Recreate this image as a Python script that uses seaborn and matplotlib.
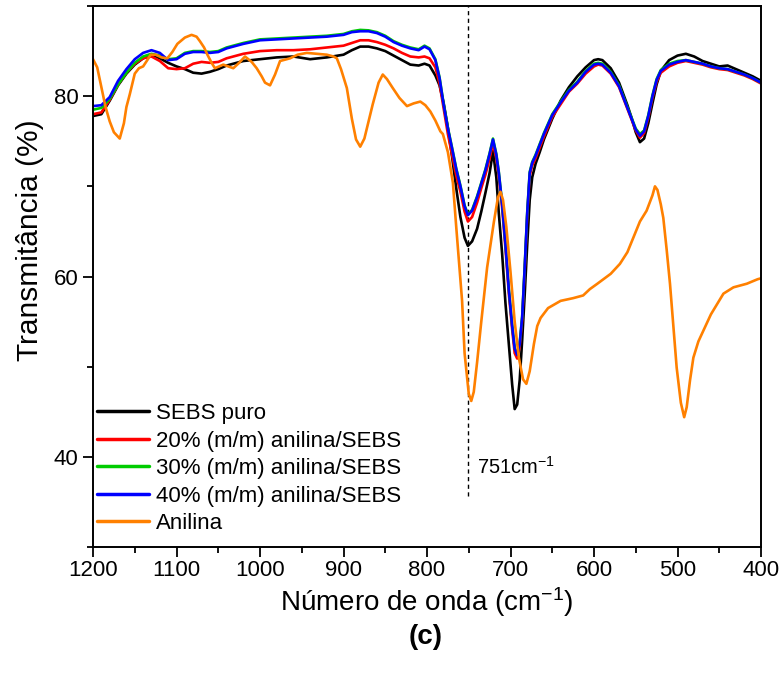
import matplotlib
matplotlib.use("Agg")
import matplotlib.pyplot as plt
from matplotlib.ticker import MultipleLocator, AutoMinorLocator
import numpy as np
import pandas as pd
import seaborn as sns

# FTIR spectra of SEBS films (wavenumber in cm-1, transmittance in %)
wn_sebs = [1200, 1190, 1180, 1170, 1160, 1150, 1140, 1130, 1120, 1110,
           1100, 1090, 1080, 1070, 1060, 1050, 1040, 1020, 1000, 980,
           960, 940, 920, 900, 890, 880, 870, 860, 850, 840,
           830, 820, 810, 803, 797, 790, 785, 780, 775, 770,
           765, 760, 755, 751, 746, 740, 735, 730, 725, 721,
           717, 714, 710, 706, 702, 698, 695, 692, 689, 686,
           683, 680, 677, 674, 670, 665, 660, 650, 640, 630,
           620, 610, 600, 595, 590, 580, 570, 560, 555, 550,
           545, 540, 535, 530, 525, 520, 510, 500, 490, 480,
           470, 460, 450, 440, 430, 420, 410, 400]

sebs_puro = [77.8, 78.0, 79.5, 81.2, 82.5, 83.5, 84.2, 84.6, 84.2, 83.7,
             83.3, 83.0, 82.6, 82.5, 82.7, 83.0, 83.4, 83.9, 84.1, 84.3,
             84.4, 84.1, 84.3, 84.6, 85.1, 85.5, 85.5, 85.3, 85.0, 84.5,
             84.0, 83.5, 83.4, 83.6, 83.4, 82.3, 81.2, 79.2, 76.5, 73.3,
             69.8, 66.6, 64.3, 63.4, 63.9, 65.3, 67.2, 69.3, 71.5, 73.9,
             71.0, 67.0, 62.5, 57.0, 52.5, 48.0, 45.3, 45.8, 48.5, 53.0,
             58.0, 63.5, 68.5, 71.0, 72.5, 73.8, 75.2, 77.5, 79.5, 81.0,
             82.2, 83.2, 84.0, 84.1, 84.0, 83.1, 81.5, 79.0, 77.6, 76.0,
             74.9, 75.3, 77.0, 79.2, 81.3, 82.8, 84.0, 84.5, 84.7, 84.4,
             83.9, 83.6, 83.3, 83.4, 83.0, 82.6, 82.2, 81.7]

anil_20 = [78.0, 78.2, 79.6, 81.3, 82.6, 83.6, 84.2, 84.4, 83.9, 83.1,
           83.0, 83.1, 83.6, 83.8, 83.7, 83.8, 84.2, 84.7, 85.0, 85.1,
           85.1, 85.2, 85.4, 85.6, 85.9, 86.2, 86.2, 86.0, 85.7, 85.3,
           84.8, 84.4, 84.3, 84.4, 84.2, 83.2, 81.4, 78.6, 75.8, 73.5,
           71.2, 69.4, 67.2, 66.1, 66.6, 68.2, 69.8, 71.3, 73.1, 74.8,
           73.1, 71.1, 67.6, 63.1, 58.1, 54.1, 51.5, 50.9, 52.2, 55.2,
           60.7, 66.7, 71.2, 72.3, 73.1, 74.3, 75.5, 77.7, 79.1, 80.5,
           81.4, 82.5, 83.3, 83.5, 83.4, 82.5, 81.0, 78.6, 77.4, 76.2,
           75.4, 75.9, 77.6, 79.8, 81.6, 82.6, 83.3, 83.7, 83.9, 83.7,
           83.5, 83.2, 83.0, 82.9, 82.6, 82.3, 81.9, 81.4]

anil_30 = [78.5, 78.7, 79.7, 81.3, 82.6, 83.7, 84.4, 84.7, 84.5, 84.1,
           84.2, 84.8, 85.0, 85.0, 84.9, 85.0, 85.4, 85.9, 86.3, 86.4,
           86.5, 86.6, 86.7, 86.9, 87.2, 87.35, 87.3, 87.1, 86.7, 86.1,
           85.7, 85.4, 85.2, 85.6, 85.3, 84.1, 82.1, 79.1, 76.5, 74.3,
           72.0, 70.1, 67.9, 66.9, 67.4, 68.9, 70.4, 71.9, 73.7, 75.3,
           73.6, 71.6, 68.1, 63.6, 58.6, 54.6, 52.1, 51.4, 52.6, 55.6,
           61.1, 67.1, 71.6, 72.7, 73.5, 74.7, 75.9, 78.0, 79.4, 80.7,
           81.6, 82.8, 83.6, 83.7, 83.6, 82.7, 81.2, 78.8, 77.6, 76.4,
           75.8, 76.2, 77.9, 80.1, 81.9, 82.9, 83.6, 83.9, 84.0, 83.8,
           83.6, 83.3, 83.1, 83.0, 82.7, 82.4, 82.0, 81.5]

anil_40 = [78.9, 79.0, 79.9, 81.7, 83.0, 84.1, 84.8, 85.1, 84.8, 84.0,
           84.1, 84.7, 84.9, 84.9, 84.8, 84.9, 85.3, 85.8, 86.2, 86.3,
           86.4, 86.5, 86.6, 86.8, 87.1, 87.2, 87.2, 87.0, 86.6, 86.0,
           85.6, 85.3, 85.1, 85.5, 85.2, 84.0, 82.0, 79.0, 76.4, 74.2,
           71.9, 70.0, 67.8, 66.8, 67.3, 68.8, 70.3, 71.8, 73.6, 75.2,
           73.5, 71.5, 68.0, 63.5, 58.5, 54.5, 52.0, 51.3, 52.5, 55.5,
           61.0, 67.0, 71.5, 72.6, 73.4, 74.6, 75.8, 77.9, 79.3, 80.6,
           81.5, 82.7, 83.5, 83.6, 83.5, 82.6, 81.1, 78.7, 77.5, 76.3,
           75.6, 76.1, 77.8, 80.0, 81.8, 82.8, 83.5, 83.8, 84.0, 83.8,
           83.6, 83.3, 83.1, 83.0, 82.7, 82.4, 82.0, 81.5]

# Pure aniline spectrum
wn_anilina = [1200, 1195, 1190, 1185, 1180, 1175, 1168, 1163, 1160, 1156,
              1150, 1145, 1140, 1135, 1131, 1125, 1118, 1111, 1105, 1099,
              1090, 1082, 1076, 1072, 1067, 1063, 1058, 1054, 1049, 1044,
              1038, 1032, 1025, 1018, 1010, 1004, 998, 994, 988, 982,
              976, 964, 955, 944, 932, 920, 912, 908, 903, 896,
              890, 885, 880, 875, 870, 865, 858, 853, 848, 841,
              833, 824, 816, 808, 802, 796, 790, 784, 781, 775,
              769, 765, 758, 755, 750, 747, 744, 740, 735, 728,
              720, 715, 712, 709, 705, 700, 695, 690, 685, 681,
              677, 672, 668, 664, 655, 640, 625, 613, 605, 596,
              580, 569, 560, 553, 545, 537, 530, 527, 524, 520,
              517, 513, 509, 505, 501, 496, 492, 489, 485, 481,
              475, 469, 460, 445, 433, 417, 404, 400]

anilina = [84.1, 83.2, 81.0, 78.8, 77.2, 76.0, 75.3, 77.0, 78.8, 80.2,
           82.5, 83.1, 83.3, 84.0, 84.6, 84.6, 84.3, 84.2, 84.9, 85.8,
           86.5, 86.8, 86.6, 86.1, 85.4, 84.6, 83.7, 83.1, 83.3, 83.5,
           83.3, 83.1, 83.7, 84.4, 83.8, 83.1, 82.2, 81.5, 81.2, 82.4,
           83.9, 84.2, 84.6, 84.8, 84.7, 84.6, 84.4, 84.2, 83.0, 80.9,
           77.5, 75.2, 74.4, 75.3, 77.2, 79.1, 81.5, 82.4, 81.9, 80.9,
           79.8, 78.9, 79.2, 79.4, 79.0, 78.3, 77.3, 76.1, 75.8, 73.8,
           70.4, 65.5, 57.3, 51.5, 47.0, 46.2, 47.2, 50.5, 55.0, 61.0,
           66.0, 68.8, 69.4, 68.5, 65.5, 60.5, 55.0, 51.0, 48.6, 48.1,
           49.5, 52.5, 54.5, 55.4, 56.5, 57.3, 57.6, 57.9, 58.6, 59.2,
           60.3, 61.4, 62.7, 64.3, 66.1, 67.3, 69.0, 70.0, 69.6, 68.0,
           66.5, 63.0, 59.2, 54.5, 49.9, 46.0, 44.4, 45.5, 48.5, 51.0,
           52.8, 54.0, 55.8, 58.1, 58.8, 59.2, 59.7, 59.8]

series_labels = ["SEBS puro", "20% (m/m) anilina/SEBS", "30% (m/m) anilina/SEBS",
                 "40% (m/m) anilina/SEBS", "Anilina"]
series_colors = ["#000000", "#ff0000", "#00cc00", "#0000ff", "#ff8000"]

peak_wn = 751
peak_label = "751cm$^{-1}$"

sns.set_theme(style="ticks")
plt.rcParams["font.family"] = ["Liberation Sans", "DejaVu Sans"]
plt.rcParams["mathtext.fontset"] = "custom"
plt.rcParams["mathtext.rm"] = "Liberation Sans"
plt.rcParams["mathtext.it"] = "Liberation Sans:italic"
plt.rcParams["mathtext.bf"] = "Liberation Sans:bold"
for key in ["text.color", "axes.labelcolor", "xtick.color", "ytick.color",
            "axes.edgecolor"]:
    plt.rcParams[key] = "black"

frames = []
for lab, y in zip(series_labels[:4], [sebs_puro, anil_20, anil_30, anil_40]):
    frames.append(pd.DataFrame({"wn": wn_sebs, "T": y, "amostra": lab}))
frames.append(pd.DataFrame({"wn": wn_anilina, "T": anilina, "amostra": series_labels[4]}))
df = pd.concat(frames, ignore_index=True)

fig = plt.figure(figsize=(7.83, 6.75), dpi=100)
ax = fig.add_axes([0.1188, 0.1896, 0.8531, 0.8015])

sns.lineplot(data=df, x="wn", y="T", hue="amostra", hue_order=series_labels,
             palette=series_colors, linewidth=1.9, ax=ax, estimator=None,
             sort=True)

# marker line at the 751 cm-1 band
ax.plot([peak_wn, peak_wn], [35.7, 90], color="black", lw=1.0,
        linestyle=(0, (3, 2.5)), zorder=1)
ax.text(740, 38.1, peak_label, fontsize=14.5, ha="left", va="baseline")

ax.set_xlim(1200, 400)
ax.set_ylim(30, 90)
ax.xaxis.set_major_locator(MultipleLocator(100))
ax.xaxis.set_minor_locator(AutoMinorLocator(2))
ax.yaxis.set_major_locator(MultipleLocator(20))
ax.yaxis.set_minor_locator(AutoMinorLocator(2))
ax.tick_params(which="major", direction="out", length=7, width=1.3,
               labelsize=16, colors="black", top=False, right=False)
ax.tick_params(axis="x", which="major", pad=2.5)
ax.tick_params(which="minor", direction="out", length=4, width=1.3,
               top=False, right=False)
for s in ax.spines.values():
    s.set_visible(True)
    s.set_color("black")
    s.set_linewidth(1.4)

ax.set_xlabel("Número de onda (cm$^{-1}$)", fontsize=20, labelpad=3)
ax.set_ylabel("Transmitância (%)", fontsize=21.5)
ax.yaxis.set_label_coords(-0.074, 0.568)

leg = ax.legend(loc="lower left", bbox_to_anchor=(0.006, 0.024), frameon=False,
                fontsize=16, handlelength=2.35, handletextpad=0.3,
                labelspacing=0.29, borderpad=0, borderaxespad=0)
for line in leg.get_lines():
    line.set_linewidth(2.5)

fig.text(0.543, 0.057, "(c)", fontsize=20, fontweight="bold", ha="center",
         va="center")

fig.savefig("out.png", dpi=100)
